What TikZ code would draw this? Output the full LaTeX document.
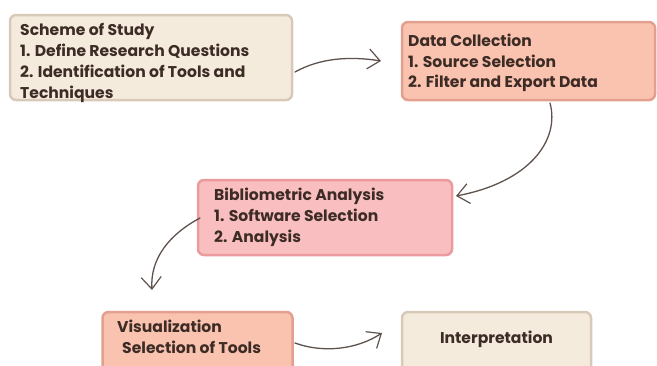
\documentclass[tikz,border=0pt]{standalone}
\usepackage{fontspec}
\setmainfont{Poppins}
\usetikzlibrary{arrows.meta}
\definecolor{txt}{HTML}{3D2B25}
\definecolor{beigeF}{HTML}{F5EBDD}
\definecolor{beigeD}{HTML}{D8C9B8}
\definecolor{salF}{HTML}{FAC3B0}
\definecolor{salD}{HTML}{E3A08F}
\definecolor{pinkF}{HTML}{F9BFC0}
\definecolor{pinkD}{HTML}{EB9A9D}
\definecolor{arr}{HTML}{5E524C}
\tikzset{
  box/.style={rounded corners=6pt, line width=2.5pt, inner sep=0pt},
  lbl/.style={anchor=west, inner sep=0pt, text=txt, font=\fontsize{15.6}{18}\selectfont\bfseries, text height=11pt, text depth=0pt},
  conn/.style={draw=arr, line width=1.3pt, line cap=round, -{Straight Barb[length=12pt,width=20pt,line width=1.2pt]}}
}
\begin{document}
\begin{tikzpicture}[x=1pt,y=-1pt]
\useasboundingbox (0,0) rectangle (657,365);
% boxes
\node[box, draw=beigeD, fill=beigeF, minimum width=282pt, minimum height=85pt] (b1) at (151,57.5) {};
\node[box, draw=salD, fill=salF, minimum width=253pt, minimum height=78pt] (b2) at (528.5,61) {};
\node[box, draw=pinkD, fill=pinkF, minimum width=254pt, minimum height=75pt] (b3) at (325,217.5) {};
\node[box, draw=salD, fill=salF, minimum width=190pt, minimum height=64pt] (b4) at (197.5,344) {};
\node[box, draw=beigeD, fill=beigeF, minimum width=189pt, minimum height=64pt] (b5) at (496.5,344) {};
% texts
\node[lbl] (t11) at (20,30) {Scheme of Study};
\node[lbl] (t12) at (20,51) {1. Define Research Questions};
\node[lbl] (t13) at (20,72) {2. Identification of Tools and};
\node[lbl] (t14) at (20,93) {Techniques};
\node[lbl] (t21) at (408,41) {Data Collection};
\node[lbl] (t22) at (408,62) {1. Source Selection};
\node[lbl] (t23) at (408,82) {2. Filter and Export Data};
\node[lbl] (t31) at (214,195) {Bibliometric Analysis};
\node[lbl] (t32) at (214,216) {1. Software Selection};
\node[lbl] (t33) at (214,237) {2. Analysis};
\node[lbl] (t41) at (117,327) {Visualization};
\node[lbl] (t42) at (122,348) {Selection of Tools};
\node[lbl, anchor=center] (t51) at (496.5,338) {Interpretation};
% connector end points
\coordinate (a1s) at (295,72);  \coordinate (a1e) at (381,61);
\coordinate (a2s) at (550,103); \coordinate (a2e) at (456,196);
\coordinate (a3s) at (200,218); \coordinate (a3e) at (152,290);
\coordinate (a4s) at (295,343); \coordinate (a4e) at (382,333);
\draw[conn] (a1s) .. controls (320,58) and (350,56) .. (a1e);
\draw[conn] (a2s) .. controls (560,140) and (530,182) .. (a2e);
\draw[conn] (a3s) .. controls (170,234) and (150,258) .. (a3e);
\draw[conn] (a4s) .. controls (322,353) and (356,350) .. (a4e);
\end{tikzpicture}
\end{document}
